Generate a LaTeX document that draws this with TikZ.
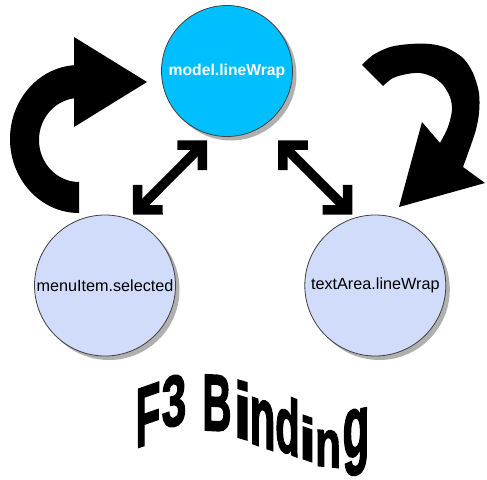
\documentclass[tikz,border=0pt]{standalone}
\usepackage{fontspec}
\setmainfont{Liberation Sans}
\newfontfamily\wafont{Liberation Sans Bold}[FakeBold=2.5]
\usetikzlibrary{arrows.meta,shadows}

\definecolor{modelblue}{RGB}{0,191,255}
\definecolor{viewblue}{RGB}{208,220,250}
\definecolor{shadowgray}{RGB}{176,176,176}

\tikzset{
  prop/.style={circle, draw=black!75, line width=0.8pt, inner sep=0pt,
    general shadow={fill=shadowgray, shadow xshift=4pt, shadow yshift=-4pt}},
  viewprop/.style={prop, fill=viewblue, minimum size=141pt,
    font=\fontsize{16.2}{19}\selectfont},
  modelprop/.style={prop, fill=modelblue, minimum size=131pt, text=white,
    font=\fontsize{15.7}{19}\selectfont\bfseries},
  binding/.style={line width=9.5pt,
    {Straight Barb[angle=90:25pt]}-{Straight Barb[angle=90:25pt]}},
  wordart/.style={inner sep=0pt, transform shape, font=\fontsize{40}{40}\wafont}
}

\begin{document}
\begin{tikzpicture}[x=1pt,y=1pt]
\useasboundingbox (0,0) rectangle (487,-479);

\node[modelprop] (model) at (227,-71) {model.lineWrap};
\node[viewprop] (menu) at (105,-285.5) {menuItem.selected};
\node[viewprop] (area) at (375.3,-285.5) {textArea.lineWrap};

% two-way bindings
\draw[binding] ([xshift=28pt]menu.north) -- ([shift={(-20pt,-3.5pt)}]model.south);
\draw[binding] ([shift={(51pt,-3.5pt)}]model.south) -- ([xshift=-23pt]area.north);

% left curved arrow
\fill (79,-213) arc[start angle=270, end angle=90, x radius=69, y radius=74]
  -- (74,-65) -- (74,-37) -- (147,-82) -- (74,-127) -- (74,-98) -- (79,-98)
  arc[start angle=90, end angle=270, x radius=40, y radius=42] -- cycle;

% right curved arrow
\fill plot[smooth] coordinates {(362,-65) (373,-55) (390,-47) (410,-44) (430,-44)
    (447,-48) (463,-58) (473,-73) (479,-93) (479,-113) (475,-133) (463,-167)}
  -- (485,-183) -- (399,-207) -- (422,-122) -- (440,-143)
  -- plot[smooth] coordinates {(440,-143) (448,-127) (452,-110) (450,-97)
    (443,-85) (433,-77) (420,-73) (407,-74) (393,-78) (383,-86)} -- cycle;

% title, letter by letter
\node[wordart, shift={(148,-415)}, yslant=0.35, xscale=1.0, yscale=2.1] (titleF) at (0,0) {F};
\node[wordart, shift={(174,-401)}, yslant=0.2, xscale=1.1, yscale=1.8] (title3) at (0,0) {3};
\node[wordart, shift={(217,-403)}, yslant=-0.05, xscale=1.0, yscale=2.0] (titleB) at (0,0) {B};
\node[wordart, shift={(242.5,-410)}, yslant=-0.3, xscale=1.6, yscale=1.96] (titlei) at (0,0) {i};
\node[wordart, shift={(262.5,-423.5)}, yslant=-0.35, xscale=1.05, yscale=2.16] (titlen) at (0,0) {n};
\node[wordart, shift={(287.5,-425)}, yslant=-0.4, xscale=1.0, yscale=1.96] (titled) at (0,0) {d};
\node[wordart, shift={(307.5,-438.5)}, yslant=-0.35, xscale=1.5, yscale=1.5] (titleii) at (0,0) {i};
\node[wordart, shift={(328,-448.5)}, yslant=-0.1, xscale=1.05, yscale=1.68] (titlenn) at (0,0) {n};
\node[wordart, shift={(356,-442)}, yslant=0.2, xscale=1.1, yscale=2.19] (titleg) at (0,0) {g};
\end{tikzpicture}
\end{document}
